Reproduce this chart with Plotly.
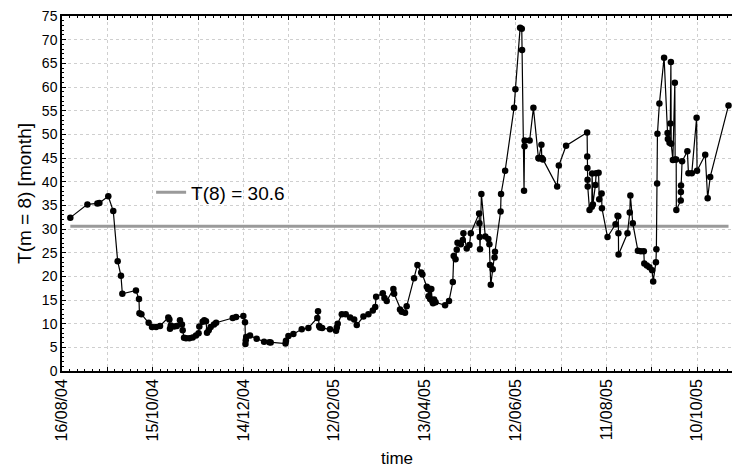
import pandas as pd
import plotly.graph_objects as go

start_date = "2004-08-16"
# time of each observation, in days after start_date
days = [5.5, 16.8, 23.4, 24.7, 30.6, 33.9, 36.8, 39.0, 39.9, 48.9,
        50.9, 51.2, 52.5, 57.3, 59.5, 62.2, 64.8, 70.3, 71.0, 71.4,
        71.9, 74.1, 75.9, 78.0, 79.3, 79.8, 80.7, 82.0, 84.2, 86.4,
        88.6, 90.3, 90.8, 93.0, 94.1, 95.2, 95.9, 97.0, 98.3, 100.5,
        101.9, 112.9, 115.1, 119.9, 121.0, 121.3, 121.5, 121.8, 124.3, 128.7,
        133.6, 137.1, 138.0, 147.8, 148.1, 149.7, 153.0, 158.5, 162.9, 168.8,
        169.3, 170.0, 170.6, 172.0, 177.2, 181.2, 181.7, 182.3, 185.0, 187.6,
        190.5, 193.2, 194.9, 199.3, 202.6, 205.5, 207.1, 207.7, 212.1, 213.2,
        214.7, 219.1, 219.6, 223.5, 224.6, 226.8, 227.9, 232.8, 235.0, 237.5,
        238.3, 241.2, 242.0, 242.3, 243.0, 243.4, 244.2, 244.8, 245.3, 246.0,
        247.0, 253.3, 255.9, 258.4, 259.0, 260.2, 261.0, 261.5, 263.7, 265.0,
        265.4, 267.6, 269.4, 270.3, 275.8, 276.0, 276.2, 276.4, 277.3, 279.9,
        281.9, 282.6, 283.0, 283.5, 284.8, 286.0, 286.3, 290.0, 290.3, 293.0,
        298.9, 299.8, 302.9, 304.0, 304.2, 305.5, 305.8, 305.9, 309.2, 311.7,
        315.0, 315.3, 317.0, 317.2, 318.0, 327.4, 328.5, 333.3, 347.2, 347.3,
        347.4, 347.5, 347.6, 348.8, 350.3, 350.5, 351.0, 352.7, 353.2, 354.8,
        355.2, 356.8, 357.0, 360.7, 366.0, 367.3, 367.8, 367.9, 368.0, 373.9,
        375.4, 375.8, 377.4, 380.8, 382.7, 384.7, 385.0, 386.7, 388.4, 390.2,
        390.9, 392.7, 393.0, 393.5, 393.7, 395.0, 398.1, 400.4, 400.6, 401.7,
        402.2, 402.6, 402.8, 403.9, 405.2, 405.4, 406.1, 406.2, 409.1, 409.2,
        409.3, 410.0, 413.5, 414.2, 416.4, 419.6, 419.9, 425.3, 426.9, 428.6,
        440.7]
values = [32.4, 35.2, 35.4, 35.5, 36.9, 33.8, 23.2, 20.1, 16.3, 17.0,
          15.2, 12.2, 12.0, 10.2, 9.3, 9.3, 9.5, 11.3, 10.9, 8.9,
          9.6, 9.4, 9.5, 10.7, 9.8, 8.6, 7.0, 6.9, 6.9, 7.1,
          7.5, 8.0, 9.4, 10.4, 10.7, 10.5, 8.1, 8.6, 9.3, 9.8,
          10.2, 11.2, 11.4, 11.6, 10.3, 5.7, 6.5, 7.2, 7.5, 6.8,
          6.2, 6.1, 6.0, 5.8, 6.4, 7.4, 7.8, 8.8, 9.1, 11.2,
          12.6, 9.5, 9.2, 9.1, 8.8, 8.5, 9.2, 10.0, 12.0, 12.0,
          11.3, 10.9, 9.7, 11.5, 12.0, 12.8, 13.5, 15.7, 16.4, 15.4,
          14.8, 17.3, 16.3, 13.0, 12.5, 12.3, 13.7, 19.6, 22.4, 20.8,
          20.4, 17.8, 17.3, 15.8, 17.4, 15.2, 17.3, 14.8, 14.3, 15.1,
          14.5, 13.9, 14.8, 18.8, 24.3, 23.6, 25.6, 27.1, 26.8, 27.7,
          29.1, 25.9, 26.6, 29.1, 33.3, 31.2, 28.3, 25.7, 37.4, 28.4,
          27.9, 26.8, 22.4, 18.2, 21.5, 24.0, 25.2, 33.7, 37.4, 42.3,
          55.6, 59.5, 72.5, 72.3, 67.8, 38.1, 47.5, 48.7, 48.7, 55.6,
          45.0, 44.9, 47.8, 45.0, 44.7, 39.0, 43.4, 47.6, 50.4, 45.3,
          42.9, 40.4, 39.0, 34.0, 34.7, 41.7, 35.2, 39.3, 41.8, 41.9,
          36.3, 37.5, 34.4, 28.3, 31.0, 32.8, 32.7, 29.1, 24.6, 29.1,
          33.5, 37.1, 31.2, 25.4, 25.3, 25.3, 22.7, 22.3, 21.9, 21.3,
          18.9, 23.0, 25.7, 39.6, 50.1, 56.5, 66.2, 50.3, 49.0, 48.2,
          52.3, 65.3, 48.0, 44.6, 60.9, 44.7, 44.7, 34.0, 36.0, 37.8,
          39.2, 44.3, 46.4, 41.8, 41.8, 53.5, 42.3, 45.7, 36.5, 41.0,
          56.1]

mean_label = "T(8) = 30.6"
mean_value = 30.6

tick_labels = ["16/08/04", "15/10/04", "14/12/04", "12/02/05",
               "13/04/05", "12/06/05", "11/08/05", "10/10/05"]
range_days = 443.0

t0 = pd.Timestamp(start_date)
dates = [t0 + pd.Timedelta(days=d) for d in days]

# major gridlines every 30 days, labels every 60 days
grid_vals, grid_text = [], []
for i, lab in enumerate(tick_labels):
    grid_vals.append(t0 + pd.Timedelta(days=60 * i))
    grid_text.append(lab)
    grid_vals.append(t0 + pd.Timedelta(days=60 * i + 30))
    grid_text.append("")

font_family = "Arial, Liberation Sans, sans-serif"

fig = go.Figure()
fig.add_trace(go.Scatter(
    x=[dates[0], dates[-1]], y=[mean_value, mean_value],
    mode="lines", line=dict(color="#9a9a9a", width=3),
    name=mean_label, showlegend=True, cliponaxis=False))
fig.add_trace(go.Scatter(
    x=dates, y=values, mode="lines+markers",
    line=dict(color="black", width=1.2),
    marker=dict(color="black", size=6.5),
    showlegend=False, cliponaxis=False))

fig.update_layout(
    width=732, height=470,
    margin=dict(l=62, r=0, t=16, b=99),
    paper_bgcolor="white", plot_bgcolor="white",
    font=dict(family=font_family, color="black"),
    legend=dict(x=0.133, y=0.503, xanchor="left", yanchor="middle",
                bgcolor="rgba(0,0,0,0)", font=dict(size=19),
                itemwidth=30),
)
fig.update_xaxes(
    type="date", automargin=False,
    range=[t0, t0 + pd.Timedelta(days=range_days)],
    tickmode="array", tickvals=grid_vals, ticktext=grid_text,
    tickangle=-90, tickfont=dict(size=16),
    showgrid=True, gridcolor="#cfcfcf", griddash="dot", gridwidth=1,
    showline=True, linecolor="black", linewidth=1.5, mirror="ticks",
    ticks="inside", ticklen=4, tickcolor="black",
    minor=dict(dtick=5 * 86400000, tick0=start_date, ticks="inside",
               ticklen=2, tickcolor="black", showgrid=False),
    title=dict(text="time", font=dict(size=17), standoff=12),
    zeroline=False,
)
fig.update_yaxes(
    automargin=False,
    range=[0, 75], dtick=5, tick0=0,
    tickfont=dict(size=14),
    showgrid=True, gridcolor="#cfcfcf", griddash="dot", gridwidth=1,
    showline=True, linecolor="black", linewidth=1.5,
    ticks="inside", ticklen=4, tickcolor="black",
    minor=dict(dtick=1, ticks="inside", ticklen=2, tickcolor="black",
               showgrid=False),
    title=dict(text="T(m = 8) [month]", font=dict(size=19), standoff=5),
    zeroline=False,
)

fig.write_html(
    "out.html",
    config={"displayModeBar": False},
    post_script="document.body.style.margin='0';document.body.style.overflow='hidden';",
)
